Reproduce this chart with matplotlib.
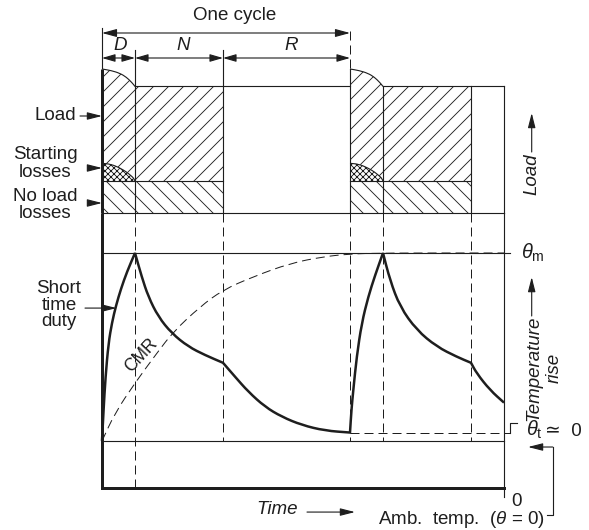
import matplotlib
matplotlib.use('Agg')
import matplotlib.pyplot as plt
from matplotlib.path import Path
from matplotlib.patches import PathPatch
import numpy as np

INK = '#1e1e1e'

plt.rcParams['font.family'] = ['Liberation Sans', 'DejaVu Sans']
plt.rcParams['font.size'] = 15
plt.rcParams['mathtext.fontset'] = 'custom'
plt.rcParams['mathtext.rm'] = 'Liberation Sans'
plt.rcParams['mathtext.it'] = 'Liberation Sans:italic'
plt.rcParams['hatch.linewidth'] = 0.7
plt.rcParams['hatch.color'] = INK
plt.rcParams['text.color'] = INK

# duty cycle: start-up (D), running (N), rest (R)
D_len, N_len, R_len = 3.3, 8.8, 12.7
cycle_starts = [0.0, 24.8]
t_end = 40.2

# load diagram (levels above the base line)
load_level = 1.265
noload_level = 0.32
d_t = [0.0, 0.9, 1.8, 2.45, 2.9, 3.15, 3.3]
start_load = [1.44, 1.425, 1.397, 1.357, 1.313, 1.285, 1.265]
start_loss = [0.497, 0.488, 0.45, 0.41, 0.373, 0.35, 0.32]

# temperature rise, per unit of theta_m
heat1_t = [0.0, 0.15, 0.35, 0.65, 1.0, 1.4, 1.9, 2.5, 3.3]
heat1_th = [0.0, 0.16, 0.34, 0.52, 0.63, 0.72, 0.81, 0.90, 1.0]
run1_t = [3.3, 3.97, 4.63, 5.63, 6.97, 8.63, 10.3, 12.1]
run1_th = [1.0, 0.874, 0.768, 0.661, 0.573, 0.502, 0.457, 0.416]
rest1_t = [12.1, 13.3, 14.63, 16.3, 17.97, 19.97, 22.3, 24.8]
rest1_th = [0.416, 0.342, 0.262, 0.182, 0.129, 0.085, 0.055, 0.045]
heat2_t = [24.8, 24.95, 25.13, 25.47, 25.97, 26.63, 27.3, 28.1]
heat2_th = [0.045, 0.17, 0.271, 0.448, 0.626, 0.768, 0.88, 1.0]
run2_t = [28.1, 28.8, 29.8, 31.47, 33.47, 35.47, 36.9]
run2_th = [1.0, 0.856, 0.714, 0.590, 0.502, 0.448, 0.416]
rest2_t = [36.9, 37.47, 38.8, 40.2]
rest2_th = [0.416, 0.360, 0.271, 0.204]

# continuous rating heating curve
cmr_t = [0.0, 1.3, 3.3, 5.47, 7.13, 9.8, 12.07, 15.13, 18.8, 22.1, 24.8, 28.1, 40.2]
cmr_th = [0.0, 0.149, 0.309, 0.466, 0.581, 0.714, 0.803, 0.874, 0.945, 0.98, 0.995, 1.0, 1.0]

theta_m = 1.0
theta_t = 0.045
floor = -0.25
panel_join = 1.213   # load-panel base line in temperature units

fig = plt.figure(figsize=(589 / 90, 530 / 90), dpi=90)
ax = fig.add_axes([0, 0, 1, 1])
axl = fig.add_axes([0, 0, 1, 1])
for a in (ax, axl):
    a.set_xlim(-10.2, 48.7)
    a.axis('off')
ax.set_ylim(-0.4734, 2.3457)
axl.set_ylim(-3.17, 2.13)

thin = dict(color=INK, lw=0.9)
dash = dict(color=INK, lw=0.8, linestyle=(0, (9, 5)))


def arrow(a, x0, y0, x1, y1, style='-|>', ms=18, hw=0.14):
    a.annotate('', xy=(x1, y1), xytext=(x0, y0),
               arrowprops=dict(arrowstyle='%s,head_length=0.55,head_width=%g' % (style, hw),
                               color=INK, lw=0.9, shrinkA=0, shrinkB=0,
                               mutation_scale=ms))


def smooth_path(segments):
    # quadratic bezier through segment midpoints; corners kept between segments
    verts, codes = [], []
    for k, (t, th) in enumerate(segments):
        p = np.column_stack([t, th])
        if k == 0:
            verts.append(p[0])
            codes.append(Path.MOVETO)
        if len(p) > 2:
            verts.append((p[0] + p[1]) / 2)
            codes.append(Path.LINETO)
            for i in range(1, len(p) - 1):
                verts += [p[i], (p[i] + p[i + 1]) / 2]
                codes += [Path.CURVE3, Path.CURVE3]
        verts.append(p[-1])
        codes.append(Path.LINETO)
    return Path(np.array(verts), codes)


# ---- load diagram ----
for s in cycle_starts:
    tD = np.array(d_t) + s
    n0, n1 = s + D_len, s + D_len + N_len
    axl.fill_between(tD, start_loss, start_load, facecolor='none', edgecolor=INK, hatch='//', lw=0)
    axl.fill_between(tD, noload_level, start_loss, facecolor='none', edgecolor=INK, hatch='xxxxx', lw=0)
    axl.fill_between([n0, n1], noload_level, load_level, facecolor='none', edgecolor=INK, hatch='//', lw=0)
    axl.fill_between([s, n1], 0, noload_level, facecolor='none', edgecolor=INK, hatch='\\\\', lw=0)
    axl.add_patch(PathPatch(smooth_path([(tD, start_load)]), fill=False, edgecolor=INK, lw=0.9))
    axl.add_patch(PathPatch(smooth_path([(tD, start_loss)]), fill=False, edgecolor=INK, lw=0.9))
    axl.plot([s, n1], [noload_level] * 2, **thin)
    axl.plot([n0, n0], [0, load_level], **thin)
    axl.plot([n1, n1], [0, load_level], **thin)
    if s > 0:
        axl.plot([s, s], [0, start_load[0]], **thin)

axl.plot([0, t_end], [0, 0], **thin)
axl.plot([D_len, cycle_starts[1]], [load_level] * 2, **thin)
axl.plot([cycle_starts[1] + D_len, t_end], [load_level] * 2, **thin)
axl.plot([t_end, t_end], [0, load_level], **thin)
axl.plot([0, 0], [0, start_load[0]], color=INK, lw=2.4, solid_capstyle='butt')

# dimension lines
axl.plot([0, 0], [1.45, 1.85], **thin)
axl.plot([D_len, D_len], [load_level, 1.63], **thin)
axl.plot([D_len + N_len] * 2, [load_level, 1.63], **thin)
axl.plot([cycle_starts[1]] * 2, [1.45, 1.86], **dash)
arrow(axl, 0, 1.80, cycle_starts[1], 1.80, style='<|-|>', hw=0.15)
edges = [0, D_len, D_len + N_len, cycle_starts[1]]
for a0, a1 in zip(edges[:-1], edges[1:]):
    arrow(axl, a0, 1.55, a1, 1.55, style='<|-|>', ms=16, hw=0.16)
axl.text(13.3, 1.97, 'One cycle', ha='center', va='center')
for lab, tx in zip(['D', 'N', 'R'], [1.8, 8.1, 18.9]):
    axl.text(tx, 1.68, lab, ha='center', va='center', style='italic')

# labels
axl.text(-2.6, 0.97, 'Load', ha='right', va='center')
arrow(axl, -2.2, 0.97, 0, 0.97)
axl.text(-5.7, 0.495, 'Starting\nlosses', ha='center', va='center', linespacing=1.05)
arrow(axl, -1.4, 0.45, 0, 0.45)
axl.text(-5.7, 0.08, 'No load\nlosses', ha='center', va='center', linespacing=1.0)
arrow(axl, -1.4, 0.10, 0, 0.10)
axl.text(42.97, 0.39, 'Load', rotation=90, ha='center', va='center', style='italic')
arrow(axl, 42.97, 0.61, 42.97, 1.0)

# ---- temperature diagram ----
ax.plot([0, 0], [panel_join, floor], color=INK, lw=2.4, solid_capstyle='butt')
ax.plot([0, t_end], [floor, floor], color=INK, lw=2.4, solid_capstyle='projecting')
ax.plot([t_end, t_end], [panel_join, -0.298], **thin)
ax.plot([0, 40.8], [theta_m] * 2, **thin)
ax.plot([0, t_end], [0, 0], **thin)

ax.plot([D_len, D_len], [panel_join, floor], **dash)
for tb in [D_len + N_len, cycle_starts[1], cycle_starts[1] + D_len, cycle_starts[1] + D_len + N_len]:
    ax.plot([tb, tb], [panel_join, 0], **dash)
ax.plot([cycle_starts[1], 40.8], [theta_t] * 2, **dash)
ax.plot([40.8, 40.8, 41.5], [theta_t, 0.096, 0.096], **thin)

ax.add_patch(PathPatch(smooth_path([(cmr_t, cmr_th)]), fill=False, edgecolor=INK,
                       lw=0.8, linestyle=(0, (9, 5))))
segments = [(heat1_t, heat1_th), (run1_t, run1_th), (rest1_t, rest1_th),
            (heat2_t, heat2_th), (run2_t, run2_th), (rest2_t, rest2_th)]
ax.add_patch(PathPatch(smooth_path(segments), fill=False, edgecolor=INK, lw=2.0,
                       joinstyle='miter', capstyle='butt'))

ax.text(-4.3, 0.723, 'Short\ntime\nduty', ha='center', va='center', linespacing=0.95)
arrow(ax, -1.7, 0.707, 1.45, 0.707)
ax.text(3.97, 0.457, 'CMR', rotation=47, ha='center', va='center', fontsize=14)

ax.text(41.9, theta_m, r'$\theta_{\mathrm{m}}$', ha='left', va='center', fontsize=16)
ax.text(42.4, 0.058, r'$\theta_{\mathrm{t}}$', ha='left', va='center', fontsize=16)
ax.text(44.3, 0.05, '≃  0', ha='left', va='center')
ax.text(44.17, 0.388, 'Temperature\nrise', rotation=90, ha='center', va='center',
        style='italic', multialignment='center', linespacing=1.25)
arrow(ax, 42.97, 0.665, 42.97, 0.872)

ax.text(17.5, -0.367, 'Time', ha='center', va='center', style='italic')
arrow(ax, 20.5, -0.378, 25.3, -0.378)
ax.text(41.5, -0.324, '0', ha='center', va='center')
ax.text(27.6, -0.42, 'Amb.  temp.  ($\\theta$ = 0)', ha='left', va='center')
ax.plot([44.5, 45.07, 45.07], [-0.394, -0.394, -0.032], **thin)
arrow(ax, 45.07, -0.032, 42.6, -0.032)

fig.savefig('out.png', dpi=90)
